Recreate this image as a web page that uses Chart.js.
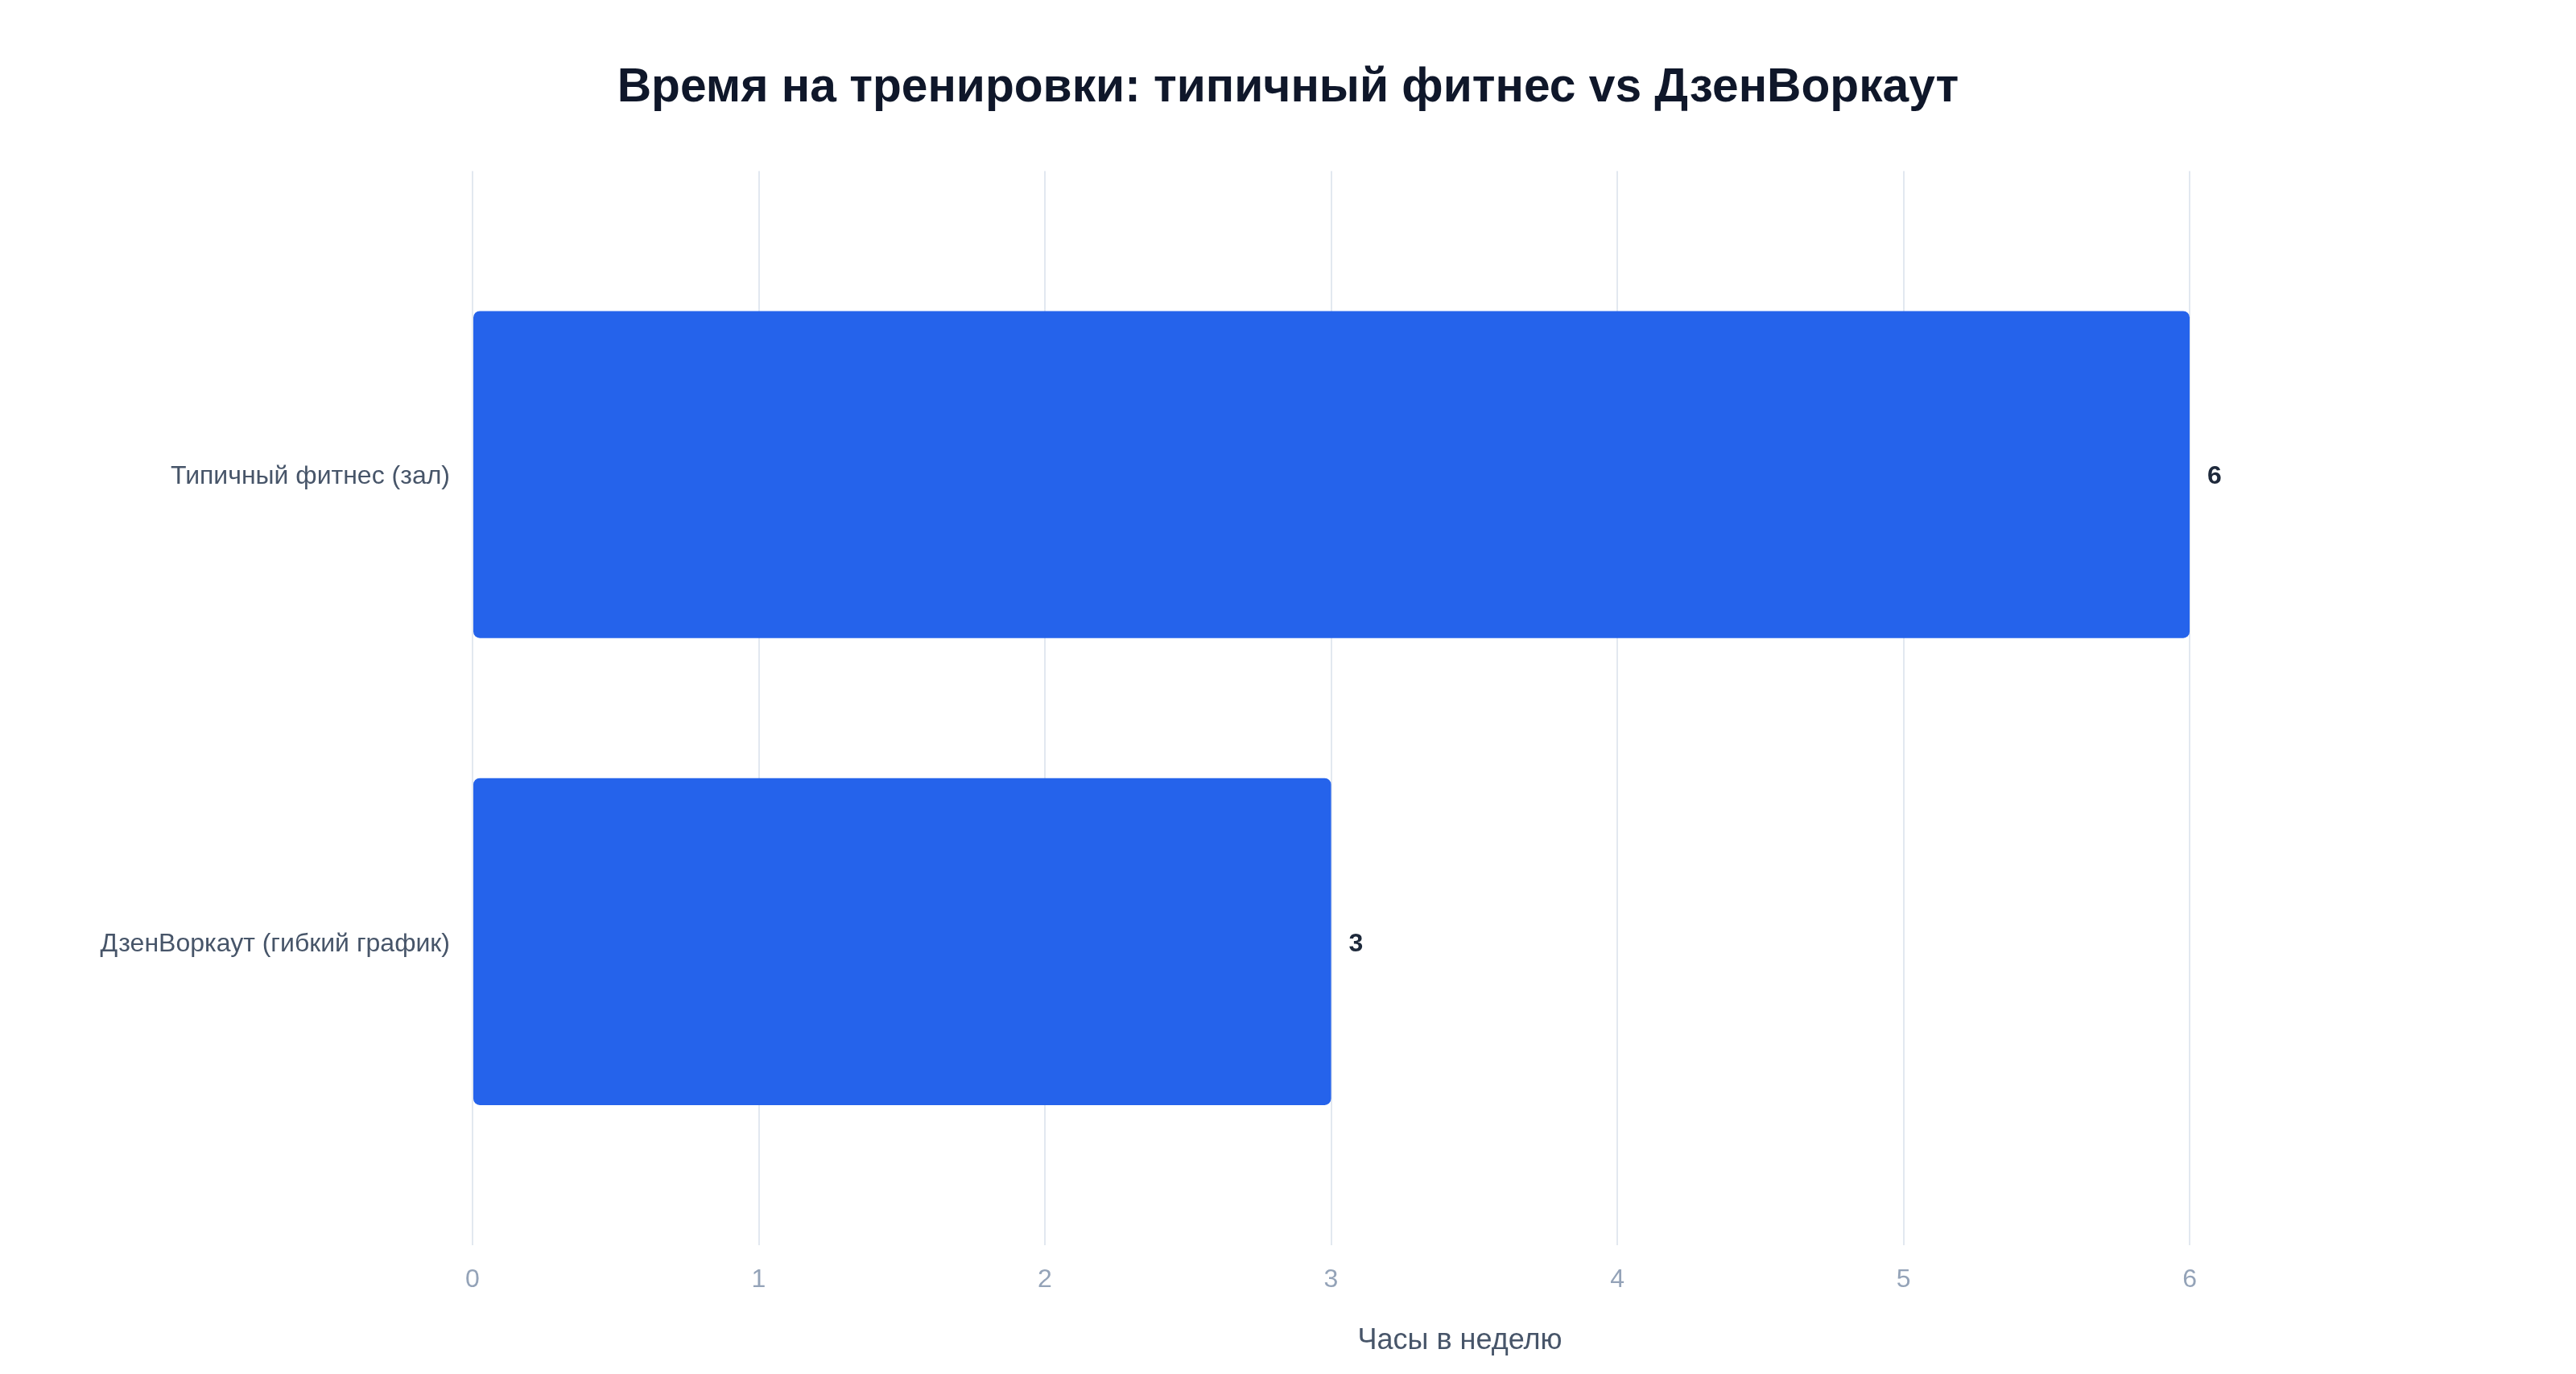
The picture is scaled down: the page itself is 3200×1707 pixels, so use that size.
<!DOCTYPE html>
<html lang="ru">
<head>
<meta charset="utf-8">
<title>Время на тренировки</title>
<script src="https://cdn.jsdelivr.net/npm/chart.js@4.4.1/dist/chart.umd.min.js"></script>
<style>
  html, body { margin: 0; padding: 0; background: #ffffff; }
  #chart { display: block; }
</style>
</head>
<body>
<canvas id="chart" width="3200" height="1707"></canvas>
<script>
const categories = ['Типичный фитнес (зал)', 'ДзенВоркаут (гибкий график)'];
const hours = [6, 3];
const xTicks = [0, 1, 2, 3, 4, 5, 6];

const FONT = '"Liberation Sans", Arial, Helvetica, sans-serif';

// value labels to the right of each bar
const valueLabels = {
  id: 'valueLabels',
  afterDatasetsDraw(chart) {
    const ctx = chart.ctx;
    const meta = chart.getDatasetMeta(0);
    ctx.save();
    ctx.font = 'bold 32px ' + FONT;
    ctx.fillStyle = '#1e293b';
    ctx.textAlign = 'left';
    ctx.textBaseline = 'middle';
    meta.data.forEach((bar, i) => {
      ctx.fillText(String(hours[i]), bar.x + 22, bar.y + 3);
    });
    ctx.restore();
  }
};

new Chart(document.getElementById('chart'), {
  type: 'bar',
  data: {
    datasets: [{
      label: 'Часы в неделю',
      data: categories.map((c, i) => ({ y: i, x: hours[i] })),
      backgroundColor: '#2563eb',
      borderRadius: 8,
      borderSkipped: false,
      categoryPercentage: 1,
      barPercentage: 0.7
    }]
  },
  options: {
    indexAxis: 'y',
    responsive: false,
    devicePixelRatio: 1,
    animation: false,
    layout: { padding: 0 },
    plugins: {
      legend: { display: false },
      tooltip: { enabled: false },
      title: {
        display: true,
        text: 'Время на тренировки: типичный фитнес vs ДзенВоркаут',
        color: '#0f172a',
        font: { family: FONT, size: 58.7, weight: 'bold' },
        padding: { top: 75, bottom: 67 }
      }
    },
    scales: {
      x: {
        type: 'linear',
        min: 0,
        max: 6.9,
        ticks: {
          stepSize: 1,
          color: '#94a3b8',
          padding: 24,
          font: { family: FONT, size: 32 }
        },
        afterBuildTicks(scale) {
          scale.ticks = xTicks.map(v => ({ value: v }));
        },
        afterFit(scale) { scale.height = 160; },
        grid: { color: '#e2e8f0', lineWidth: 2, drawTicks: false },
        border: { display: false },
        title: {
          display: true,
          text: 'Часы в неделю',
          color: '#475569',
          font: { family: FONT, size: 36 },
          padding: { top: 0, bottom: 19 }
        }
      },
      y: {
        type: 'linear',
        offset: false,
        min: -0.65,
        max: 1.65,
        reverse: true,
        afterBuildTicks(scale) {
          scale.ticks = categories.map((c, i) => ({ value: i }));
        },
        afterFit(scale) { scale.width = 587; },
        ticks: {
          color: '#475569',
          padding: 28,
          labelOffset: 3,
          font: { family: FONT, size: 32 },
          callback: (v) => categories[v]
        },
        grid: { display: false, drawTicks: false, offset: false },
        border: { display: false }
      },
      // empty right-hand axis: keeps space right of the plot, title stays centred on the page
      yRight: {
        type: 'linear',
        position: 'right',
        afterFit(scale) { scale.width = 160; },
        ticks: { display: false },
        grid: { display: false, drawTicks: false },
        border: { display: false }
      }
    }
  },
  plugins: [valueLabels]
});
</script>
</body>
</html>
